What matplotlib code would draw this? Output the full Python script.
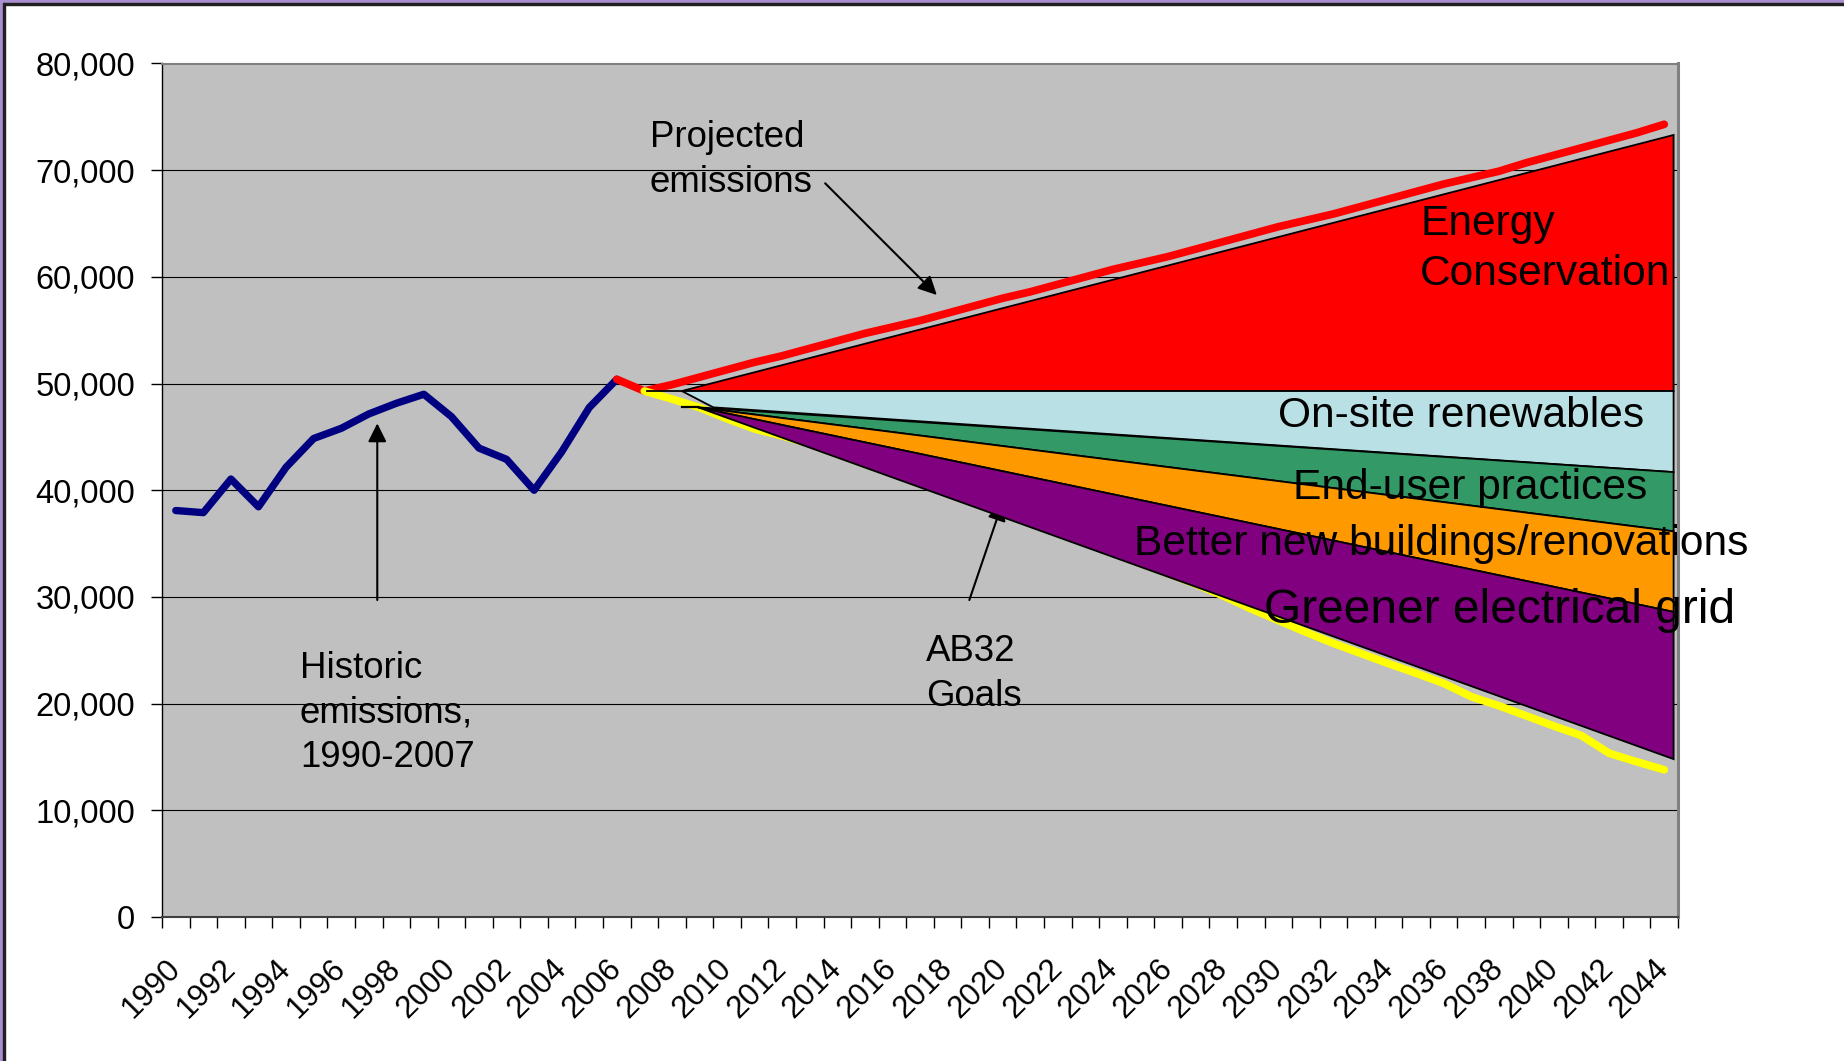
"""Building-sector CO2 emissions: historic series, business-as-usual projection,
AB32 goal line and the reduction wedges that close the gap."""
import matplotlib
matplotlib.use("Agg")
import matplotlib.pyplot as plt
from matplotlib.patches import Polygon, Rectangle
from matplotlib.ticker import FixedLocator, FuncFormatter
import numpy as np

plt.rcParams["font.family"] = ["Liberation Sans", "DejaVu Sans"]

# --- data -------------------------------------------------------------------
hist_years = list(range(1990, 2007))
hist_vals = [38100, 37900, 41050, 38450, 42150, 44850, 45800, 47150, 48150,
             49000, 46900, 43950, 42900, 40000, 43600, 47750, 50400]

proj_years = list(range(2006, 2045))
proj_vals = [50400, 49300, 49900, 50600, 51300, 52000, 52600, 53300, 54000,
             54700, 55300, 55900, 56600, 57300, 58000, 58600, 59300, 60000,
             60700, 61300, 61900, 62600, 63300, 64000, 64700, 65300, 65900,
             66600, 67300, 68000, 68700, 69300, 69900, 70700, 71400, 72100,
             72800, 73500, 74300]

goal_years = list(range(2007, 2045))
goal_vals = [49300, 48550, 47750, 46700, 45750, 45100, 44350, 43400, 42450,
             41550, 40600, 39700, 38750, 37850, 36900, 35950, 35050, 34100,
             33150, 32200, 31200, 30100, 28900, 27800, 26700, 25650, 24700,
             23750, 22850, 21900, 20650, 19800, 18850, 17900, 17000, 15350,
             14550, 13800]

# reduction wedges: drawn from a left apex out to the right edge
wedge_names = ["Energy\nConservation", "On-site renewables", "End-user practices",
               "Better new buildings/renovations", "Greener electrical grid"]
wedge_colors = ["#ff0000", "#b9e0e4", "#339966", "#ff9900", "#800080"]
conservation_start = 2008.36     # where the conservation wedge opens
measures_start = 2008.95         # common apex of the other measures
renewables_start = 2009.5
wedge_end = 2044.34
base_level = 49300               # projection level at the wedge apex
measures_level = 47770           # level of the lower apex
wedge_right = [73300, 49300, 41700, 36150, 28600, 14800]

label_years = list(range(1990, 2045, 2))

# --- figure -----------------------------------------------------------------
W, H = 1844, 1061
fig = plt.figure(figsize=(W / 100, H / 100), dpi=100)
fig.patch.set_facecolor("white")
ax = fig.add_axes([162 / W, 1 - 917 / H, (1678 - 162) / W, (917 - 63.5) / H])
ax.set_facecolor("#c0c0c0")
ax.set_xlim(1989.5, 2044.5)
ax.set_ylim(0, 80000)

# slide frame along top and left
fig.patches.append(Rectangle((0, 1 - 3 / H), 1, 3 / H, transform=fig.transFigure,
                             color="#a98fd0", zorder=0))
fig.patches.append(Rectangle((0, 1 - 4.5 / H), 1, 1.5 / H, transform=fig.transFigure,
                             color="#202020", zorder=0))
fig.patches.append(Rectangle((0, 0), 3 / W, 1, transform=fig.transFigure,
                             color="#a98fd0", zorder=0))
fig.patches.append(Rectangle((3 / W, 0), 1.5 / W, 1 - 3 / H, transform=fig.transFigure,
                             color="#202020", zorder=0))

# axes styling
ax.yaxis.set_major_locator(FixedLocator(range(0, 80001, 10000)))
ax.yaxis.set_major_formatter(FuncFormatter(lambda v, _: f"{int(v):,}"))
ax.tick_params(axis="y", length=8, width=1, pad=11.5, labelsize=23.5, direction="out")
ax.yaxis.grid(True, color="black", lw=0.8)
ax.set_axisbelow(True)

ax.xaxis.set_major_locator(FixedLocator(label_years))
ax.xaxis.set_minor_locator(FixedLocator(np.arange(1989.5, 2045, 1)))
ax.tick_params(axis="x", which="major", length=0, pad=34, labelsize=22.5)
ax.tick_params(axis="x", which="minor", length=8, width=1, direction="out")
ax.set_xticklabels([str(y) for y in label_years], rotation=45, ha="right",
                   va="center", rotation_mode="anchor")

ax.spines["left"].set_color("black")
ax.spines["left"].set_linewidth(1)
ax.spines["bottom"].set_color("#404040")
ax.spines["bottom"].set_linewidth(1.5)
ax.spines["top"].set_color("#808080")
ax.spines["top"].set_linewidth(1.5)
ax.spines["right"].set_color("#808080")
ax.spines["right"].set_linewidth(2.2)

# --- series -----------------------------------------------------------------
line_kw = dict(solid_capstyle="round", solid_joinstyle="round")
ax.plot(hist_years, hist_vals, color="#000080", lw=5.3, zorder=2, **line_kw)
ax.plot(proj_years, proj_vals, color="#ff0000", lw=5.6, zorder=2.5, **line_kw)
ax.plot(goal_years, goal_vals, color="#ffff00", lw=5.6, zorder=2.7, **line_kw)

# --- wedges -----------------------------------------------------------------
edge = dict(edgecolor="black", lw=1.3, zorder=4, joinstyle="miter")
ax.add_patch(Polygon([(conservation_start, base_level), (wedge_end, wedge_right[0]),
                      (wedge_end, wedge_right[1])], facecolor=wedge_colors[0], **edge))
ax.add_patch(Polygon([(conservation_start, base_level), (wedge_end, wedge_right[1]),
                      (wedge_end, wedge_right[2]), (renewables_start, measures_level)],
                     facecolor=wedge_colors[1], **edge))
for i in range(2, 5):
    ax.add_patch(Polygon([(measures_start, measures_level), (wedge_end, wedge_right[i]),
                          (wedge_end, wedge_right[i + 1])],
                         facecolor=wedge_colors[i], **edge))
ax.plot([goal_years[0] + 0.1, conservation_start], [base_level, base_level],
        color="black", lw=1.3, zorder=4.5)
ax.plot([conservation_start, measures_start], [measures_level, measures_level],
        color="black", lw=1.6, zorder=4.5)

# --- labels (y is the baseline of the last line) ----------------------------
ax.text(2035.15, 59240, wedge_names[0], fontsize=30.6, ha="left", va="baseline",
        linespacing=1.33, zorder=6)
ax.text(2043.26, 45960, wedge_names[1], fontsize=30.6, ha="right", va="baseline", zorder=6)
ax.text(2043.4, 39150, wedge_names[2], fontsize=30.6, ha="right", va="baseline", zorder=6)
ax.text(2047.05, 33930, wedge_names[3], fontsize=30.6, ha="right", va="baseline", zorder=6)
ax.text(2046.57, 27580, wedge_names[4], fontsize=34.5, ha="right", va="baseline", zorder=6)

note_kw = dict(fontsize=26.4, ha="left", va="baseline", linespacing=1.36, zorder=6)
ax.text(2007.2, 67980, "Projected\nemissions", **note_kw)
ax.text(1994.5, 14050, "Historic\nemissions,\n1990-2007", **note_kw)
ax.text(2017.22, 19800, "AB32\nGoals", **note_kw)

arrow = dict(arrowstyle="-|>", color="black", lw=1.5, mutation_scale=28,
             shrinkA=0, shrinkB=0)
ax.annotate("", xy=(2017.61, 58300), xytext=(2013.56, 68770), arrowprops=arrow, zorder=6)
ax.annotate("", xy=(1997.31, 46270), xytext=(1997.31, 29710), arrowprops=arrow, zorder=6)
ax.annotate("", xy=(2020.0, 38900), xytext=(2018.79, 29710), arrowprops=arrow, zorder=3.5)

fig.savefig("out.png", dpi=100, facecolor="white")
